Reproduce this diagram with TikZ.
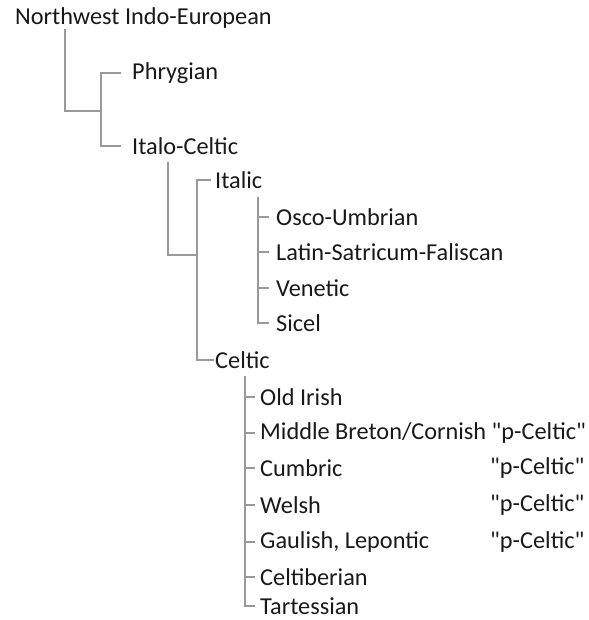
\documentclass[tikz,border=0pt]{standalone}
\usepackage{fontspec}
\setmainfont{Carlito}
\usetikzlibrary{calc}
\tikzstyle{lang} = [anchor=west, inner sep=0pt, font=\fontsize{24.3}{26}\selectfont, text=black!90]
\tikzstyle{branch} = [draw=gray!80, line width=2.6pt, line cap=rect]

\begin{document}
\begin{tikzpicture}[x=1pt, y=-1pt]
    \useasboundingbox (0,0) rectangle (588,620);

    \node [lang] at (15,18)     (nwie)      {Northwest Indo-European};
    \node [lang] at (132,73)    (phryg)     {Phrygian};
    \node [lang] at (132,146)   (italocelt) {Italo-Celtic};
    \node [lang] at (215,180)   (italic)    {Italic};
    \node [lang] at (215,360)   (celtic)    {Celtic};
    \node [lang] at (276,217)   (osco)      {Osco-Umbrian};
    \node [lang] at (276,252)   (latin)     {Latin-Satricum-Faliscan};
    \node [lang] at (276,288)   (venetic)   {Venetic};
    \node [lang] at (276,323)   (sicel)     {Sicel};
    \node [lang] at (260,397)   (oldirish)  {Old Irish};
    \node [lang] at (260,433)   (breton)    {Middle Breton/Cornish \textquotedbl p-Celtic\textquotedbl};
    \node [lang] at (260,468)   (cumbric)   {Cumbric};
    \node [lang] at (260,505)   (welsh)     {Welsh};
    \node [lang] at (260,542)   (gaulish)   {Gaulish, Lepontic};
    \node [lang] at (260,577)   (celtib)    {Celtiberian};
    \node [lang] at (260,606)   (tartess)   {Tartessian};
    \node [lang] at (490,468)   (pcumbric)  {\textquotedbl p-Celtic\textquotedbl};
    \node [lang] at (490,505)   (pwelsh)    {\textquotedbl p-Celtic\textquotedbl};
    \node [lang] at (490,542)   (pgaulish)  {\textquotedbl p-Celtic\textquotedbl};

    \coordinate (nwroot)  at (65,30);
    \coordinate (nwjoin)  at (101,111);
    \coordinate (icroot)  at (168,163);
    \coordinate (icjoin)  at (197,255);
    \coordinate (itroot)  at (258,198);
    \coordinate (ceroot)  at (245,377);

    \draw [branch] (nwroot) |- (nwjoin);
    \draw [branch] ([xshift=-12pt]phryg.west) -| (nwjoin) |- ([xshift=-12pt]italocelt.west);
    \draw [branch] (icroot) |- (icjoin);
    \draw [branch] ([xshift=-5pt]italic.west) -| (icjoin) |- ([xshift=-2pt]celtic.west);
    \foreach \lg in {osco, latin, venetic, sicel}
        \draw [branch] (itroot) |- ([xshift=-8pt]\lg.west);
    \foreach \lg in {oldirish, breton, cumbric, welsh, gaulish, celtib, tartess}
        \draw [branch] (ceroot) |- ([xshift=-6pt]\lg.west);
\end{tikzpicture}
\end{document}
